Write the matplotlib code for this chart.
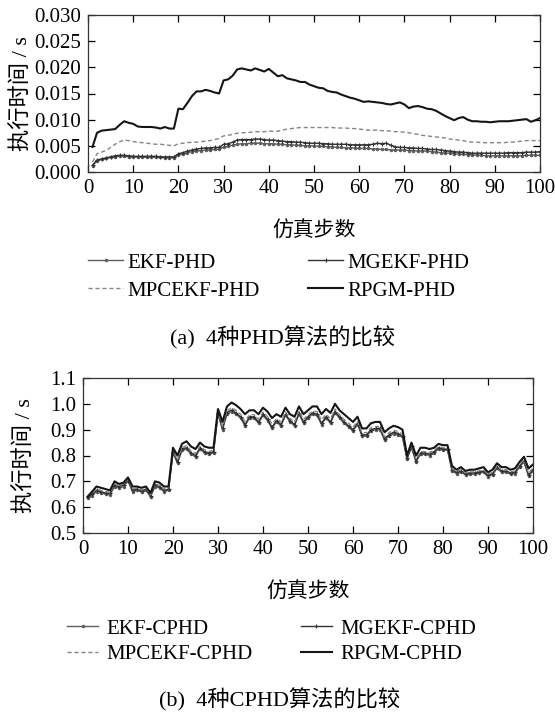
import matplotlib
matplotlib.use("Agg")
import matplotlib.pyplot as plt
from matplotlib.lines import Line2D
import numpy as np

plt.rcParams['font.family'] = ['Liberation Serif', 'Noto Sans CJK SC']
plt.rcParams['axes.unicode_minus'] = False

# ---- data ------------------------------------------------------------------
steps = list(range(1, 101))

ekf_phd = [
    0.0012, 0.0021, 0.0024, 0.0026, 0.0028, 0.0029, 0.0030, 0.0030, 0.0029, 0.0029,
    0.0028, 0.0028, 0.0028, 0.0028, 0.0028, 0.0028, 0.0027, 0.0027, 0.0027, 0.0033,
    0.0034, 0.0037, 0.0039, 0.0040, 0.0041, 0.0042, 0.0042, 0.0043, 0.0043, 0.0048,
    0.0049, 0.0051, 0.0053, 0.0054, 0.0054, 0.0055, 0.0055, 0.0055, 0.0054, 0.0054,
    0.0054, 0.0053, 0.0053, 0.0052, 0.0052, 0.0051, 0.0051, 0.0050, 0.0050, 0.0050,
    0.0049, 0.0049, 0.0048, 0.0048, 0.0047, 0.0047, 0.0046, 0.0046, 0.0046, 0.0045,
    0.0045, 0.0045, 0.0044, 0.0044, 0.0043, 0.0043, 0.0042, 0.0042, 0.0042, 0.0042,
    0.0041, 0.0041, 0.0040, 0.0040, 0.0040, 0.0039, 0.0038, 0.0037, 0.0036, 0.0036,
    0.0035, 0.0034, 0.0034, 0.0033, 0.0033, 0.0032, 0.0032, 0.0031, 0.0031, 0.0031,
    0.0031, 0.0031, 0.0031, 0.0031, 0.0031, 0.0031, 0.0032, 0.0032, 0.0032, 0.0032,
]
mgekf_phd = [
    0.0013, 0.0023, 0.0025, 0.0027, 0.0029, 0.0031, 0.0032, 0.0032, 0.0031, 0.0030,
    0.0030, 0.0030, 0.0030, 0.0030, 0.0030, 0.0029, 0.0029, 0.0029, 0.0029, 0.0035,
    0.0037, 0.0040, 0.0042, 0.0044, 0.0045, 0.0046, 0.0046, 0.0047, 0.0047, 0.0053,
    0.0054, 0.0057, 0.0061, 0.0062, 0.0062, 0.0062, 0.0063, 0.0063, 0.0062, 0.0061,
    0.0061, 0.0060, 0.0059, 0.0058, 0.0058, 0.0057, 0.0057, 0.0056, 0.0055, 0.0055,
    0.0055, 0.0054, 0.0054, 0.0053, 0.0053, 0.0053, 0.0053, 0.0052, 0.0052, 0.0052,
    0.0052, 0.0052, 0.0053, 0.0055, 0.0054, 0.0055, 0.0051, 0.0048, 0.0047, 0.0047,
    0.0046, 0.0046, 0.0045, 0.0045, 0.0044, 0.0043, 0.0043, 0.0042, 0.0041, 0.0040,
    0.0039, 0.0038, 0.0038, 0.0037, 0.0036, 0.0036, 0.0036, 0.0036, 0.0036, 0.0036,
    0.0036, 0.0036, 0.0037, 0.0037, 0.0037, 0.0037, 0.0038, 0.0038, 0.0038, 0.0039,
]
mpcekf_phd = [
    0.0019, 0.0035, 0.0038, 0.0041, 0.0047, 0.0053, 0.0058, 0.0061, 0.0060, 0.0058,
    0.0057, 0.0056, 0.0055, 0.0054, 0.0053, 0.0053, 0.0052, 0.0051, 0.0050, 0.0054,
    0.0055, 0.0056, 0.0057, 0.0057, 0.0058, 0.0059, 0.0060, 0.0062, 0.0064, 0.0069,
    0.0070, 0.0072, 0.0074, 0.0075, 0.0075, 0.0076, 0.0077, 0.0077, 0.0077, 0.0078,
    0.0078, 0.0078, 0.0080, 0.0082, 0.0083, 0.0084, 0.0085, 0.0085, 0.0085, 0.0085,
    0.0085, 0.0085, 0.0085, 0.0085, 0.0084, 0.0084, 0.0084, 0.0083, 0.0083, 0.0082,
    0.0081, 0.0080, 0.0080, 0.0080, 0.0079, 0.0079, 0.0078, 0.0077, 0.0077, 0.0076,
    0.0075, 0.0073, 0.0072, 0.0070, 0.0069, 0.0068, 0.0067, 0.0066, 0.0065, 0.0063,
    0.0062, 0.0061, 0.0060, 0.0058, 0.0057, 0.0057, 0.0056, 0.0056, 0.0056, 0.0056,
    0.0056, 0.0056, 0.0057, 0.0057, 0.0058, 0.0059, 0.0060, 0.0060, 0.0060, 0.0060,
]
rpgm_phd = [
    0.0048, 0.0075, 0.0079, 0.0080, 0.0081, 0.0082, 0.0090, 0.0097, 0.0094, 0.0092,
    0.0087, 0.0086, 0.0086, 0.0086, 0.0085, 0.0083, 0.0086, 0.0083, 0.0083, 0.0121,
    0.0120, 0.0132, 0.0145, 0.0154, 0.0154, 0.0157, 0.0155, 0.0152, 0.0150, 0.0175,
    0.0177, 0.0184, 0.0196, 0.0198, 0.0196, 0.0194, 0.0198, 0.0195, 0.0192, 0.0197,
    0.0190, 0.0183, 0.0185, 0.0179, 0.0177, 0.0175, 0.0172, 0.0172, 0.0167, 0.0164,
    0.0161, 0.0160, 0.0155, 0.0153, 0.0152, 0.0148, 0.0145, 0.0142, 0.0140, 0.0137,
    0.0134, 0.0135, 0.0134, 0.0133, 0.0132, 0.0130, 0.0129, 0.0131, 0.0133, 0.0129,
    0.0122, 0.0125, 0.0126, 0.0124, 0.0121, 0.0120, 0.0117, 0.0112, 0.0107, 0.0103,
    0.0099, 0.0103, 0.0105, 0.0100, 0.0097, 0.0097, 0.0096, 0.0096, 0.0095, 0.0096,
    0.0097, 0.0097, 0.0097, 0.0098, 0.0099, 0.0100, 0.0101, 0.0096, 0.0099, 0.0103,
]

ekf_cphd = [
    0.635, 0.645, 0.660, 0.655, 0.650, 0.648, 0.680, 0.675, 0.680, 0.700,
    0.660, 0.665, 0.658, 0.665, 0.640, 0.680, 0.675, 0.660, 0.665, 0.810,
    0.770, 0.820, 0.825, 0.805, 0.795, 0.825, 0.810, 0.805, 0.810, 0.960,
    0.900, 0.960, 0.970, 0.960, 0.945, 0.915, 0.945, 0.945, 0.925, 0.955,
    0.935, 0.905, 0.930, 0.915, 0.955, 0.930, 0.915, 0.960, 0.925, 0.945,
    0.960, 0.955, 0.920, 0.945, 0.925, 0.965, 0.945, 0.925, 0.910, 0.895,
    0.920, 0.875, 0.875, 0.895, 0.900, 0.900, 0.860, 0.875, 0.885, 0.880,
    0.870, 0.785, 0.830, 0.775, 0.805, 0.805, 0.800, 0.810, 0.825, 0.820,
    0.820, 0.740, 0.730, 0.735, 0.725, 0.728, 0.728, 0.732, 0.735, 0.718,
    0.725, 0.750, 0.735, 0.735, 0.728, 0.730, 0.755, 0.775, 0.720, 0.740,
]
mgekf_cphd = [
    0.638, 0.650, 0.665, 0.660, 0.655, 0.653, 0.685, 0.680, 0.686, 0.705,
    0.665, 0.670, 0.663, 0.670, 0.645, 0.685, 0.680, 0.665, 0.670, 0.815,
    0.775, 0.826, 0.830, 0.810, 0.800, 0.830, 0.815, 0.810, 0.815, 0.965,
    0.905, 0.966, 0.976, 0.965, 0.950, 0.920, 0.950, 0.950, 0.930, 0.960,
    0.940, 0.910, 0.935, 0.920, 0.960, 0.935, 0.920, 0.965, 0.930, 0.950,
    0.965, 0.960, 0.925, 0.950, 0.930, 0.970, 0.950, 0.930, 0.915, 0.900,
    0.925, 0.880, 0.880, 0.900, 0.905, 0.905, 0.865, 0.880, 0.890, 0.885,
    0.875, 0.790, 0.835, 0.780, 0.810, 0.810, 0.805, 0.815, 0.830, 0.825,
    0.825, 0.745, 0.735, 0.740, 0.730, 0.733, 0.733, 0.737, 0.740, 0.723,
    0.730, 0.755, 0.740, 0.740, 0.733, 0.735, 0.760, 0.780, 0.725, 0.745,
]
mpcekf_cphd = [
    0.640, 0.655, 0.670, 0.665, 0.660, 0.658, 0.690, 0.684, 0.690, 0.708,
    0.670, 0.674, 0.667, 0.674, 0.648, 0.690, 0.685, 0.670, 0.674, 0.820,
    0.784, 0.832, 0.838, 0.818, 0.808, 0.836, 0.822, 0.816, 0.820, 0.970,
    0.912, 0.972, 0.985, 0.975, 0.960, 0.932, 0.958, 0.958, 0.940, 0.968,
    0.950, 0.922, 0.942, 0.930, 0.968, 0.944, 0.930, 0.972, 0.940, 0.958,
    0.972, 0.970, 0.938, 0.960, 0.942, 0.980, 0.958, 0.940, 0.925, 0.910,
    0.932, 0.888, 0.888, 0.908, 0.912, 0.912, 0.872, 0.888, 0.898, 0.893,
    0.883, 0.795, 0.840, 0.787, 0.815, 0.815, 0.812, 0.820, 0.835, 0.830,
    0.830, 0.750, 0.738, 0.745, 0.733, 0.736, 0.737, 0.740, 0.745, 0.727,
    0.735, 0.760, 0.745, 0.745, 0.737, 0.740, 0.765, 0.785, 0.733, 0.752,
]
rpgm_cphd = [
    0.640, 0.660, 0.680, 0.675, 0.670, 0.665, 0.700, 0.690, 0.695, 0.715,
    0.680, 0.680, 0.675, 0.680, 0.655, 0.700, 0.695, 0.680, 0.680, 0.830,
    0.800, 0.845, 0.855, 0.835, 0.825, 0.850, 0.835, 0.830, 0.830, 0.980,
    0.930, 0.990, 1.005, 0.995, 0.980, 0.960, 0.975, 0.975, 0.960, 0.985,
    0.970, 0.945, 0.960, 0.950, 0.985, 0.960, 0.950, 0.990, 0.960, 0.975,
    0.990, 0.990, 0.960, 0.980, 0.965, 1.000, 0.975, 0.960, 0.945, 0.930,
    0.950, 0.905, 0.905, 0.925, 0.930, 0.930, 0.890, 0.905, 0.915, 0.910,
    0.900, 0.800, 0.850, 0.800, 0.830, 0.830, 0.825, 0.830, 0.845, 0.840,
    0.840, 0.760, 0.745, 0.755, 0.740, 0.745, 0.745, 0.750, 0.755, 0.735,
    0.745, 0.770, 0.755, 0.755, 0.745, 0.750, 0.775, 0.795, 0.750, 0.765,
]

phd_labels = ["EKF-PHD", "MGEKF-PHD", "MPCEKF-PHD", "RPGM-PHD"]
cphd_labels = ["EKF-CPHD", "MGEKF-CPHD", "MPCEKF-CPHD", "RPGM-CPHD"]

# ---- styles ----------------------------------------------------------------
STYLES = [
    dict(color="#5e5e5e", lw=1.0, ls="-", marker=".", ms=3.0),            # EKF
    dict(color="#333333", lw=1.0, ls="-", marker="+", ms=3.5, mew=0.8),   # MGEKF
    dict(color="#858585", lw=1.0, ls=(0, (3, 2))),                        # MPCEKF
    dict(color="#151515", lw=1.5, ls="-"),                                # RPGM
]
FS = 15
YLABEL = "执行时间 / s"
XLABEL = "仿真步数"

W, H = 555, 714
fig = plt.figure(figsize=(W / 100, H / 100), dpi=100)


def px_axes(x0, y0, x1, y1):
    return fig.add_axes([x0 / W, 1 - y1 / H, (x1 - x0) / W, (y1 - y0) / H])


def style_axes(ax):
    ax.set_xlim(0, 100)
    ax.set_xticks(range(0, 101, 10))
    ax.tick_params(direction="in", top=True, right=True, length=5, width=0.9,
                   labelsize=FS, pad=5)
    for s in ax.spines.values():
        s.set_linewidth(0.9)
        s.set_color("#333333")


def draw(ax, series, labels):
    handles = []
    for ys, lab, st in zip(series, labels, STYLES):
        ax.plot(steps, ys, **st)
        hst = dict(st)
        if "marker" in hst:
            hst["markevery"] = [1]
        handles.append(Line2D([0, 0.5, 1], [0, 0, 0], label=lab, **hst))
    return handles


def add_legend(handles, labels, x, y, **kw):
    # two columns, filled column-wise: (0, 2) left, (1, 3) right
    order = [0, 2, 1, 3]
    fig.legend([handles[i] for i in order], [labels[i] for i in order],
               ncol=2, loc="upper left", bbox_to_anchor=(x / W, 1 - y / H),
               frameon=False, fontsize=FS, borderpad=0, borderaxespad=0,
               columnspacing=2.3, **kw)


# (a) PHD
ax1 = px_axes(88, 15, 540, 172)
h1 = draw(ax1, [ekf_phd, mgekf_phd, mpcekf_phd, rpgm_phd], phd_labels)
style_axes(ax1)
ax1.set_ylim(0, 0.03)
yt1 = np.arange(0, 0.0301, 0.005)
ax1.set_yticks(yt1)
ax1.set_yticklabels([f"{v:.3f}" for v in yt1])
ax1.set_ylabel(YLABEL, fontsize=16, labelpad=1)
ax1.set_xlabel(XLABEL, fontsize=FS, labelpad=17)
add_legend(h1, phd_labels, 88, 253, handlelength=1.7, handletextpad=0.2,
           labelspacing=0.4)
fig.text(282 / W, 1 - 338 / H, "(a)  4种PHD算法的比较", ha="center", va="center",
         fontsize=16)

# (b) CPHD
ax2 = px_axes(83, 378, 533, 533)
h2 = draw(ax2, [ekf_cphd, mgekf_cphd, mpcekf_cphd, rpgm_cphd], cphd_labels)
style_axes(ax2)
ax2.set_ylim(0.5, 1.1)
yt2 = np.arange(0.5, 1.101, 0.1)
ax2.set_yticks(yt2)
ax2.set_yticklabels([f"{v:.1f}" for v in yt2])
ax2.set_ylabel(YLABEL, fontsize=16, labelpad=10)
ax2.set_xlabel(XLABEL, fontsize=FS, labelpad=17)
add_legend(h2, cphd_labels, 67, 619, handlelength=1.5, handletextpad=0.4,
           labelspacing=0.3)
fig.text(280 / W, 1 - 700 / H, "(b)  4种CPHD算法的比较", ha="center", va="center",
         fontsize=16)

fig.savefig("out.png", dpi=100, facecolor="white")
